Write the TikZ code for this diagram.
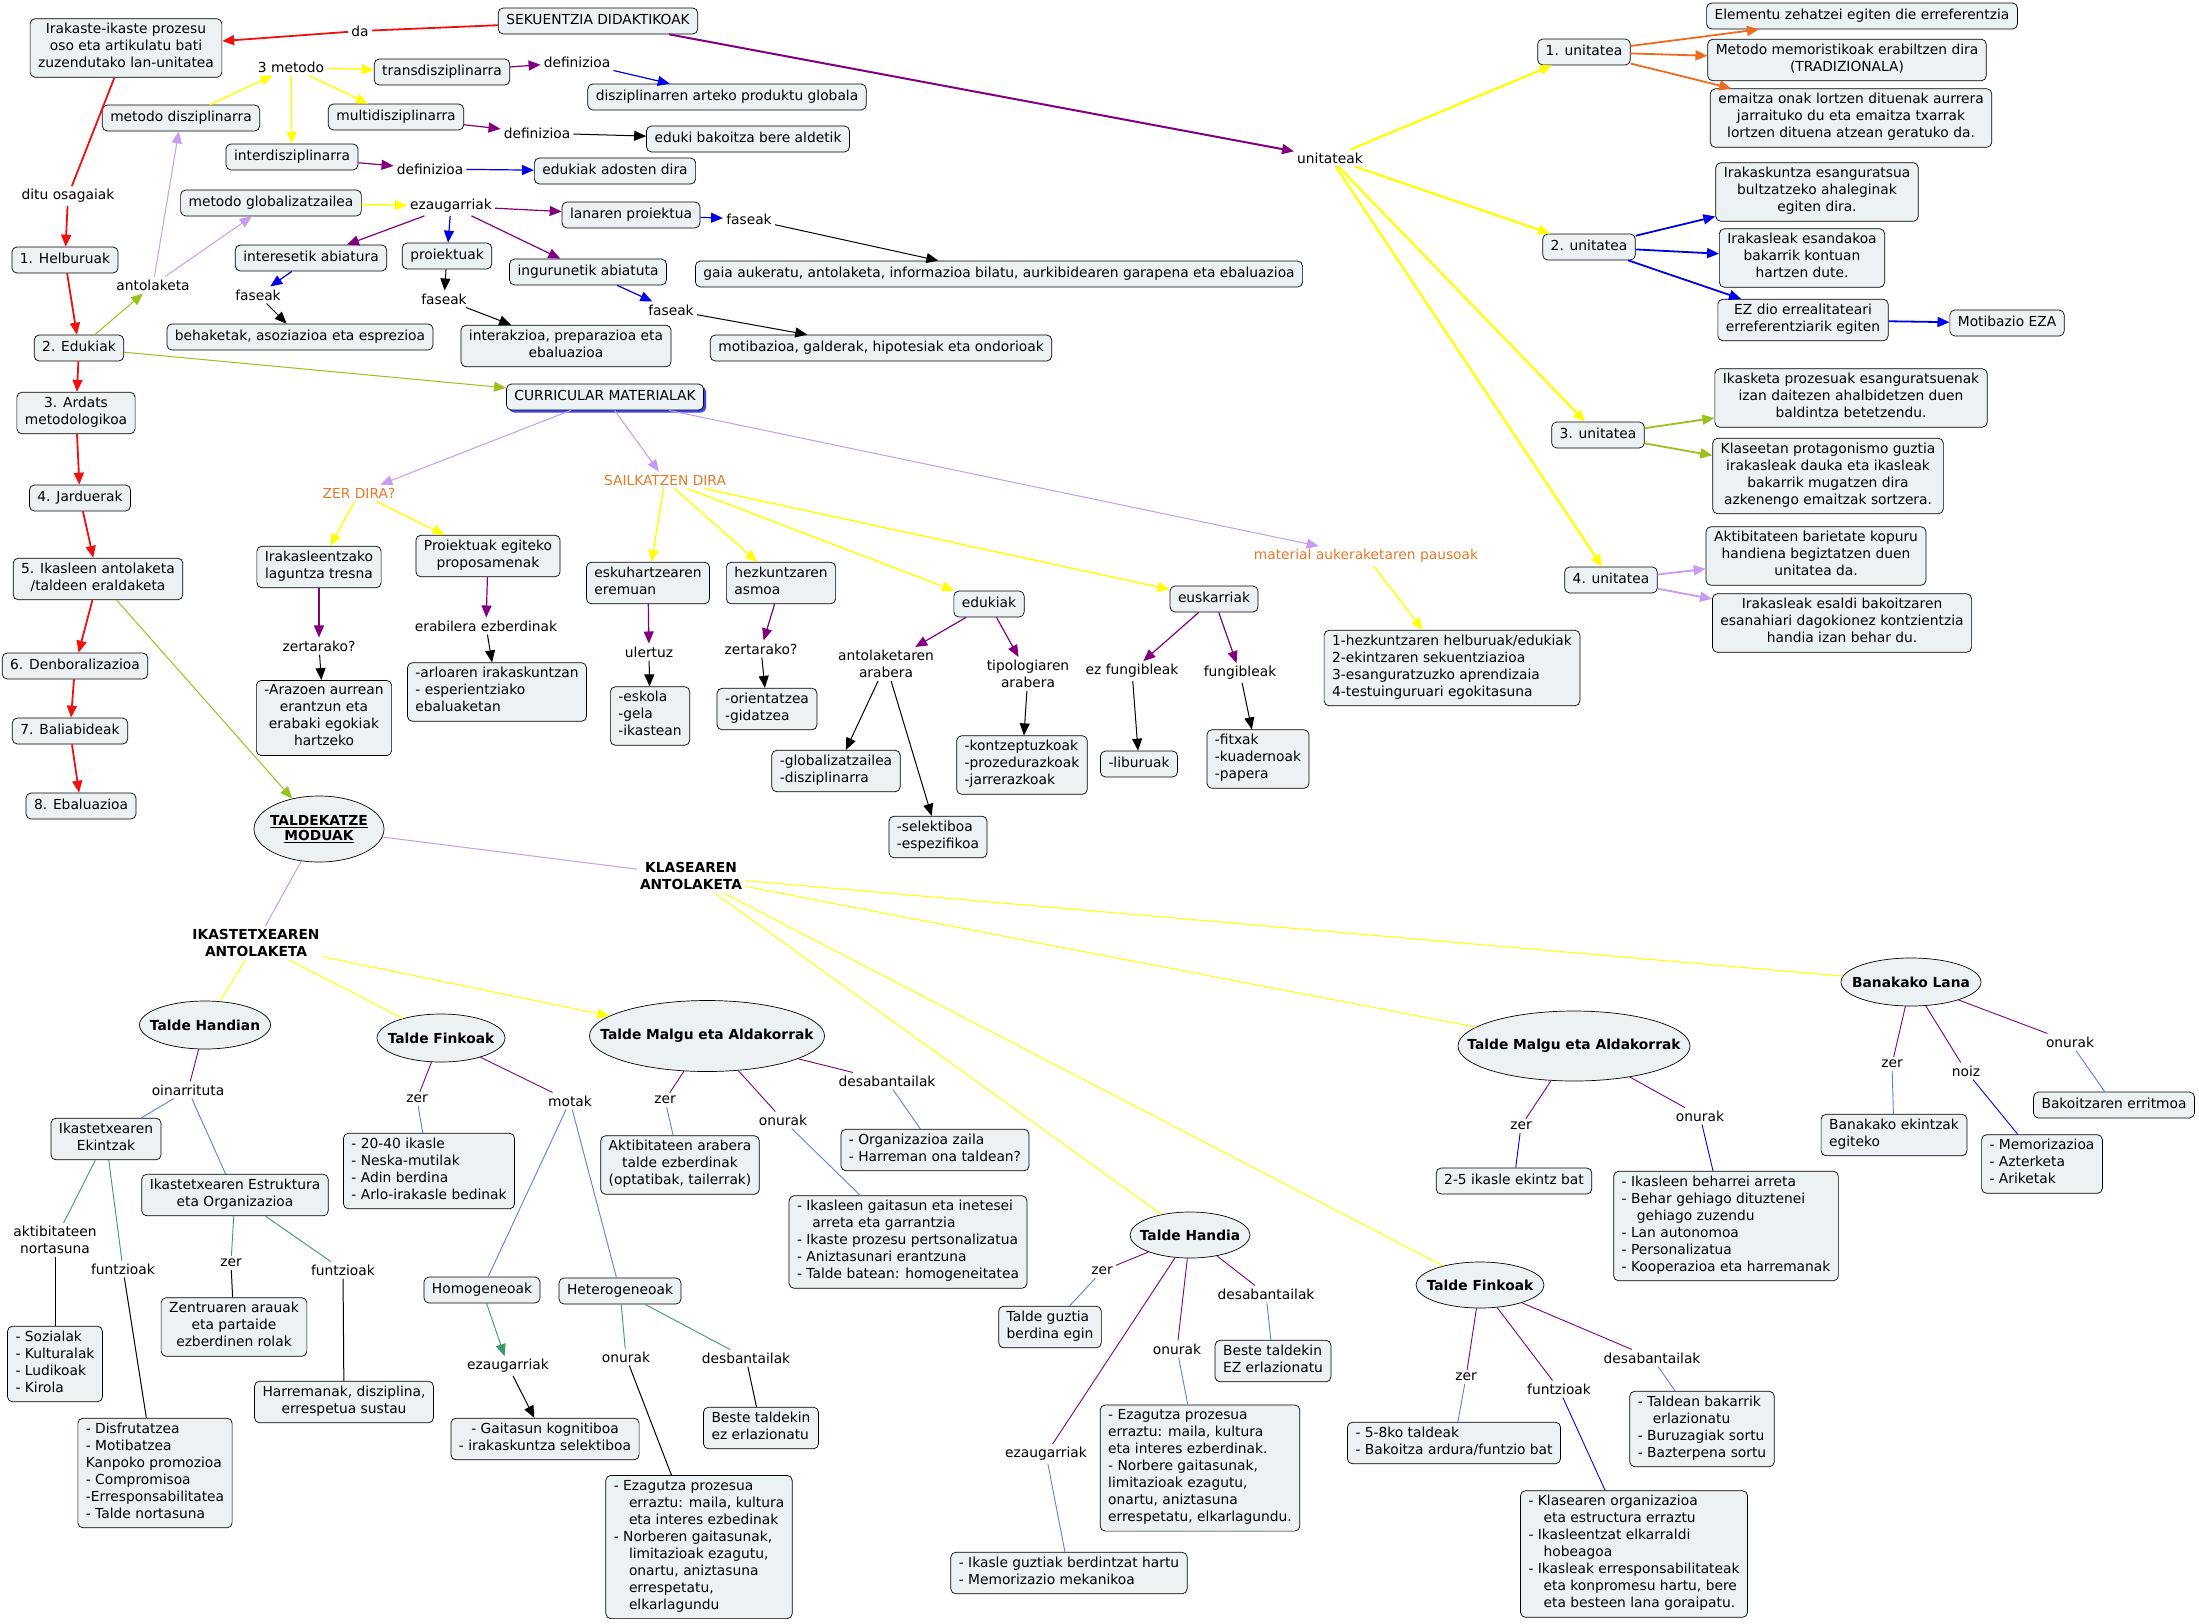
\documentclass[tikz,border=0pt]{standalone}
\usepackage{fontspec}
\setmainfont{DejaVu Sans}
\usetikzlibrary{arrows.meta,shapes.geometric,shadows}
\definecolor{boxfill}{HTML}{ECF2F4}
\definecolor{cmred}{HTML}{F01010}
\definecolor{cmyel}{HTML}{FFFF00}
\definecolor{cmpur}{HTML}{800080}
\definecolor{cmblu}{HTML}{0000E6}
\definecolor{cmora}{HTML}{F06A1E}
\definecolor{cmlav}{HTML}{C79BF2}
\definecolor{cmgrn}{HTML}{99C21A}
\definecolor{cmlbl}{HTML}{5A82DC}
\definecolor{cmtea}{HTML}{3A9A6A}
\definecolor{cmtxt}{HTML}{E8792B}
\newcommand{\cmfont}{\fontsize{13.8}{17}\selectfont}
\newcommand{\ovtext}[1]{\makebox[0pt]{#1}}
\newcommand{\ind}{\hspace*{1.1em}}

\begin{document}
\begin{tikzpicture}[x=1pt, y=-1pt, font=\cmfont, >={Triangle[length=12pt,width=10pt]},
	box/.style={draw, line width=0.7pt, rounded corners=5pt, fill=boxfill, inner xsep=8pt, inner ysep=4.5pt, align=center, execute at begin node=\strut, execute at end node=\strut},
	lbox/.style={box, align=left},
	oval/.style={draw, line width=0.7pt, ellipse, fill=boxfill, inner sep=0pt, font=\cmfont\bfseries},
	lnk/.style={inner sep=3pt, align=center},
	olnk/.style={lnk, text=cmtxt},
	hd/.style={lnk, font=\cmfont\bfseries},
	redE/.style={cmred, line width=1.8pt},
	yelE/.style={cmyel, line width=1.4pt},
	yelT/.style={cmyel, line width=2.2pt},
	yelS/.style={cmyel, line width=1pt},
	purE/.style={cmpur, line width=1.2pt},
	purT/.style={cmpur, line width=2pt},
	purS/.style={cmpur, line width=0.9pt},
	bluE/.style={cmblu, line width=1.2pt},
	bluT/.style={cmblu, line width=1.8pt},
	bluS/.style={cmblu, line width=0.9pt},
	blkE/.style={black, line width=1pt},
	oraE/.style={cmora, line width=1.8pt},
	lavE/.style={cmlav, line width=1pt},
	lavT/.style={cmlav, line width=1.8pt},
	grnE/.style={cmgrn, line width=1pt},
	grnT/.style={cmgrn, line width=1.8pt},
	lblE/.style={cmlbl, line width=0.9pt},
	teaE/.style={cmtea, line width=0.9pt}]
	\fill[white] (0,0) rectangle (2199,1623);
	\path[use as bounding box] (0,0) rectangle (2199,1623);

	\node[box] (seq) at (598,21) {SEKUENTZIA DIDAKTIKOAK};
	\node[box] (lan) at (126,48) {Irakaste-ikaste prozesu\\oso eta artikulatu bati\\zuzendutako lan-unitatea};
	\node[lnk] (da) at (360,31) {da};
	\node[lnk] (osag) at (68,196) {ditu osagaiak};
	\node[box] (helb) at (65,260) {1. Helburuak};
	\node[box] (eduk) at (79,348) {2. Edukiak};
	\node[box] (ardats) at (76,413) {3. Ardats\\metodologikoa};
	\node[box] (jard) at (80,498) {4. Jarduerak};
	\node[box] (ikasl) at (98,579) {5. Ikasleen antolaketa\\/taldeen eraldaketa};
	\node[box] (denb) at (75,666) {6. Denboralizazioa};
	\node[box] (balia) at (70,731) {7. Baliabideak};
	\node[box] (ebal) at (81,806) {8. Ebaluazioa};
	\node[lnk] (antol) at (153,285) {antolaketa};
	\node[box] (mdisz) at (181,118) {metodo disziplinarra};
	\node[lnk] (metodo) at (291,67) {3 metodo};
	\node[box] (trans) at (442,72) {transdisziplinarra};
	\node[box] (multi) at (396,117) {multidisziplinarra};
	\node[box] (inter) at (292,157) {interdisziplinarra};
	\node[lnk] (def1) at (577,62) {definizioa};
	\node[lnk] (def2) at (537,133) {definizioa};
	\node[lnk] (def3) at (430,169) {definizioa};
	\node[box] (prod) at (727,97) {disziplinarren arteko produktu globala};
	\node[box] (bakoitza) at (748,139) {eduki bakoitza bere aldetik};
	\node[box] (adosten) at (615,171) {edukiak adosten dira};
	\node[box] (mglob) at (271,203) {metodo globalizatzailea};
	\node[lnk] (ezaug) at (451,206) {ezaugarriak};
	\node[box] (lanpro) at (631,215) {lanaren proiektua};
	\node[lnk] (fase1) at (749,219) {faseak};
	\node[box] (gaia) at (999,274) {gaia aukeratu, antolaketa, informazioa bilatu, aurkibidearen garapena eta ebaluazioa};
	\node[box] (interes) at (311,258) {interesetik abiatura};
	\node[box] (proiek) at (447,256) {proiektuak};
	\node[box] (ingur) at (588,272) {ingurunetik abiatuta};
	\node[lnk] (fase2) at (258,295) {faseak};
	\node[lnk] (fase3) at (444,299) {faseak};
	\node[lnk] (fase4) at (671,310) {faseak};
	\node[box] (behak) at (300,337) {behaketak, asoziazioa eta esprezioa};
	\node[box] (interak) at (566,346) {interakzioa, preparazioa eta\\ebaluazioa};
	\node[box] (motib) at (881,348) {motibazioa, galderak, hipotesiak eta ondorioak};
	\node[box, drop shadow={shadow xshift=2.5pt, shadow yshift=-2.5pt, fill=cmblu!75, opacity=1}] (curr) at (605,397) {CURRICULAR MATERIALAK};

	\node[lnk] (unit) at (1330,158) {unitateak};
	\node[box] (u1) at (1584,52) {1. unitatea};
	\node[box] (u2) at (1589,247) {2. unitatea};
	\node[box] (u3) at (1598,435) {3. unitatea};
	\node[box] (u4) at (1611,580) {4. unitatea};
	\node[box] (elem) at (1862,16) {Elementu zehatzei egiten die erreferentzia};
	\node[box] (memor) at (1847,60) {Metodo memoristikoak erabiltzen dira\\(TRADIZIONALA)};
	\node[box] (emaitza) at (1851,118) {emaitza onak lortzen dituenak aurrera\\jarraituko du eta emaitza txarrak\\lortzen dituena atzean geratuko da.};
	\node[box] (irakask) at (1817,192) {Irakaskuntza esanguratsua\\bultzatzeko ahaleginak\\egiten dira.};
	\node[box] (esand) at (1802,258) {Irakasleak esandakoa\\bakarrik kontuan\\hartzen dute.};
	\node[box] (ezdio) at (1803,320) {EZ dio errealitateari\\erreferentziarik egiten};
	\node[box] (motez) at (2007,323) {Motibazio EZA};
	\node[box] (ikask) at (1851,398) {Ikasketa prozesuak esanguratsuenak\\izan daitezen ahalbidetzen duen\\baldintza betetzendu.};
	\node[box] (klaseet) at (1828,476) {Klaseetan protagonismo guztia\\irakasleak dauka eta ikasleak\\bakarrik mugatzen dira\\azkenengo emaitzak sortzera.};
	\node[box] (aktib) at (1816,556) {Aktibitateen barietate kopuru\\handiena begiztatzen duen\\unitatea da.};
	\node[box] (esaldi) at (1842,623) {Irakasleak esaldi bakoitzaren\\esanahiari dagokionez kontzientzia\\handia izan behar du.};

	\node[olnk] (zerdira) at (359,493) {ZER DIRA?};
	\node[olnk] (sailk) at (665,480) {SAILKATZEN DIRA};
	\node[olnk] (pausoak) at (1366,556) {material aukeraketaren pausoak};
	\node[box] (irtresna) at (319,567) {Irakasleentzako\\laguntza tresna};
	\node[box] (proposa) at (488,556) {Proiektuak egiteko\\proposamenak};
	\node[lnk] (zert1) at (319,646) {zertarako?};
	\node[lnk] (erabil) at (486,626) {erabilera ezberdinak};
	\node[box] (arazo) at (324,718) {-Arazoen aurrean\\erantzun eta\\erabaki egokiak\\hartzeko};
	\node[lbox] (arlo) at (497,692) {-arloaren irakaskuntzan\\- esperientziako\\ebaluaketan};
	\node[lbox] (eskuh) at (648,583) {eskuhartzearen\\eremuan};
	\node[lbox] (hezk) at (781,583) {hezkuntzaren\\asmoa};
	\node[box] (edk) at (989,604) {edukiak};
	\node[box] (euska) at (1214,599) {euskarriak};
	\node[lnk] (ulertuz) at (649,652) {ulertuz};
	\node[lnk] (zert2) at (761,649) {zertarako?};
	\node[lnk] (antarab) at (886,664) {antolaketaren\\arabera};
	\node[lnk] (tiparab) at (1028,674) {tipologiaren\\arabera};
	\node[lbox] (eskola) at (650,716) {-eskola\\-gela\\-ikastean};
	\node[lbox] (orient) at (767,709) {-orientatzea\\-gidatzea};
	\node[lbox] (global) at (836,771) {-globalizatzailea\\-disziplinarra};
	\node[lbox] (kontz) at (1022,765) {-kontzeptuzkoak\\-prozedurazkoak\\-jarrerazkoak};
	\node[lbox] (selekt) at (938,837) {-selektiboa\\-espezifikoa};
	\node[lnk] (ezfung) at (1132,671) {ez fungibleak};
	\node[lnk] (fung) at (1240,673) {fungibleak};
	\node[box] (libur) at (1139,764) {-liburuak};
	\node[lbox] (fitx) at (1258,759) {-fitxak\\-kuadernoak\\-papera};
	\node[lbox] (pauslist) at (1452,668) {1-hezkuntzaren helburuak/edukiak\\2-ekintzaren sekuentziazioa\\3-esanguratzuzko aprendizaia\\4-testuinguruari egokitasuna};

	\node[oval, minimum width=130, minimum height=66] (taldek) at (319,829) {\ovtext{\shortstack{\underline{TALDEKATZE}\\\underline{MODUAK}}}};
	\node[hd] (ikastA) at (256,943) {IKASTETXEAREN\\ANTOLAKETA};
	\node[hd] (klaseA) at (691,876) {KLASEAREN\\ANTOLAKETA};
	\node[oval, minimum width=131, minimum height=48] (thandian) at (205,1025) {\ovtext{Talde Handian}};
	\node[oval, minimum width=128, minimum height=48] (tfink1) at (441,1038) {\ovtext{Talde Finkoak}};
	\node[oval, minimum width=235, minimum height=71] (tmalgu1) at (707,1036) {\ovtext{Talde Malgu eta Aldakorrak}};
	\node[oval, minimum width=232, minimum height=70] (tmalgu2) at (1574,1046) {\ovtext{Talde Malgu eta Aldakorrak}};
	\node[oval, minimum width=120, minimum height=46] (thandia) at (1190,1235) {\ovtext{Talde Handia}};
	\node[oval, minimum width=128, minimum height=46] (tfink2) at (1480,1285) {\ovtext{Talde Finkoak}};
	\node[oval, minimum width=140, minimum height=48] (banak) at (1911,982) {\ovtext{Banakako Lana}};

	\node[lnk] (oinarr) at (188,1090) {oinarrituta};
	\node[box] (ekintz) at (106,1139) {Ikastetxearen\\Ekintzak};
	\node[box] (estrukt) at (235,1195) {Ikastetxearen Estruktura\\eta Organizazioa};
	\node[lnk] (aktnort) at (55,1240) {aktibitateen\\nortasuna};
	\node[lnk] (funtz1) at (123,1269) {funtzioak};
	\node[lnk] (zer1) at (231,1263) {zer};
	\node[lnk] (funtz2) at (343,1270) {funtzioak};
	\node[lbox] (sozial) at (55,1364) {- Sozialak\\- Kulturalak\\- Ludikoak\\- Kirola};
	\node[box] (zentru) at (234,1327) {Zentruaren arauak\\eta partaide\\ezberdinen rolak};
	\node[box] (harrem) at (344,1402) {Harremanak, disziplina,\\errespetua sustau};
	\node[lbox] (disfrut) at (155,1473) {- Disfrutatzea\\- Motibatzea\\Kanpoko promozioa\\- Compromisoa\\-Erresponsabilitatea\\- Talde nortasuna};

	\node[lnk] (zer2) at (417,1099) {zer};
	\node[lnk] (motak) at (570,1101) {motak};
	\node[lbox] (ikasle2040) at (429,1171) {- 20-40 ikasle\\- Neska-mutilak\\- Adin berdina\\- Arlo-irakasle bedinak};
	\node[box] (homog) at (482,1290) {Homogeneoak};
	\node[box] (heterog) at (620,1291) {Heterogeneoak};
	\node[lnk] (ezaug2) at (508,1366) {ezaugarriak};
	\node[lnk] (onurak1) at (626,1357) {onurak};
	\node[lnk] (desb1) at (746,1358) {desbantailak};
	\node[box] (gaitasun) at (545,1439) {- Gaitasun kognitiboa\\- irakaskuntza selektiboa};
	\node[lbox] (beste1) at (761,1428) {Beste taldekin\\ez erlazionatu};
	\node[lbox] (ezagutza1) at (699,1547) {- Ezagutza prozesua\\\ind erraztu: maila, kultura\\\ind eta interes ezbedinak\\- Norberen gaitasunak,\\\ind limitazioak ezagutu,\\\ind onartu, aniztasuna\\\ind errespetatu,\\\ind elkarlagundu};

	\node[lnk] (zer3) at (665,1100) {zer};
	\node[lnk] (onurak2) at (783,1120) {onurak};
	\node[lnk] (desab2) at (887,1081) {desabantailak};
	\node[box] (aktarab) at (680,1165) {Aktibitateen arabera\\talde ezberdinak\\(optatibak, tailerrak)};
	\node[lbox] (orgzaila) at (935,1150) {- Organizazioa zaila\\- Harreman ona taldean?};
	\node[lbox] (gaitinet) at (908,1242) {- Ikasleen gaitasun eta inetesei\\\ind arreta eta garrantzia\\- Ikaste prozesu pertsonalizatua\\- Aniztasunari erantzuna\\- Talde batean: homogeneitatea};

	\node[lnk] (zer4) at (1102,1271) {zer};
	\node[lnk] (onurak3) at (1177,1349) {onurak};
	\node[lnk] (desab3) at (1266,1294) {desabantailak};
	\node[lnk] (ezaug3) at (1046,1454) {ezaugarriak};
	\node[lbox] (taldeguz) at (1050,1327) {Talde guztia\\berdina egin};
	\node[lbox] (bestez) at (1273,1361) {Beste taldekin\\EZ erlazionatu};
	\node[lbox] (ezagutza2) at (1200,1468) {- Ezagutza prozesua\\erraztu: maila, kultura\\eta interes ezberdinak.\\- Norbere gaitasunak,\\limitazioak ezagutu,\\onartu, aniztasuna\\errespetatu, elkarlagundu.};
	\node[lbox] (ikasleguz) at (1069,1573) {- Ikasle guztiak berdintzat hartu\\- Memorizazio mekanikoa};

	\node[lnk] (zer5) at (1466,1377) {zer};
	\node[lnk] (funtz3) at (1559,1389) {funtzioak};
	\node[lnk] (desab4) at (1652,1358) {desabantailak};
	\node[lbox] (bosteta) at (1454,1443) {- 5-8ko taldeak\\- Bakoitza ardura/funtzio bat};
	\node[lbox] (taldeanb) at (1702,1429) {- Taldean bakarrik\\\ind erlazionatu\\- Buruzagiak sortu\\- Bazterpena sortu};
	\node[lbox] (klasorg) at (1634,1554) {- Klasearen organizazioa\\\ind eta estructura erraztu\\- Ikasleentzat elkarraldi\\\ind hobeagoa\\- Ikasleak erresponsabilitateak\\\ind eta konpromesu hartu, bere\\\ind eta besteen lana goraipatu.};

	\node[lnk] (zer6) at (1521,1126) {zer};
	\node[lnk] (onurak4) at (1700,1116) {onurak};
	\node[box] (bostekin) at (1514,1181) {2-5 ikasle ekintz bat};
	\node[lbox] (beharrei) at (1726,1226) {- Ikasleen beharrei arreta\\- Behar gehiago dituztenei\\\ind gehiago zuzendu\\- Lan autonomoa\\- Personalizatua\\- Kooperazioa eta harremanak};

	\node[lnk] (zer7) at (1892,1064) {zer};
	\node[lnk] (noiz) at (1966,1071) {noiz};
	\node[lnk] (onurak5) at (2070,1042) {onurak};
	\node[lbox] (banekin) at (1894,1135) {Banakako ekintzak\\egiteko};
	\node[lbox] (memoriz) at (2042,1164) {- Memorizazioa\\- Azterketa\\- Ariketak};
	\node[box] (erritmo) at (2114,1105) {Bakoitzaren erritmoa};

	\draw[redE] (seq) -- (da);
	\draw[redE,->] (da) -- (lan);
	\draw[redE] (lan) -- (osag);
	\draw[redE,->] (osag) -- (helb);
	\foreach \a/\b in {helb/eduk, eduk/ardats, ardats/jard, jard/ikasl, ikasl/denb, denb/balia, balia/ebal}
		\draw[redE,->] (\a) -- (\b);
	\draw[grnE,->] (eduk) -- (antol);
	\draw[lavE,->] (antol) -- (mdisz);
	\draw[lavE,->] (antol) -- (mglob);
	\draw[yelE,->] (mdisz) -- (metodo);
	\foreach \t in {trans,multi,inter}
		\draw[yelE,->] (metodo) -- (\t);
	\draw[purE,->] (trans) -- (def1);
	\draw[bluE,->] (def1) -- (prod);
	\draw[purE,->] (multi) -- (def2);
	\draw[blkE,->] (def2) -- (bakoitza);
	\draw[purE,->] (inter) -- (def3);
	\draw[bluE,->] (def3) -- (adosten);
	\draw[yelE,->] (mglob) -- (ezaug);
	\foreach \t in {lanpro,interes,ingur}
		\draw[purE,->] (ezaug) -- (\t);
	\draw[bluE,->] (ezaug) -- (proiek);
	\draw[bluE,->] (lanpro) -- (fase1);
	\draw[blkE,->] (fase1) -- (gaia);
	\draw[bluE,->] (interes) -- (fase2);
	\draw[blkE,->] (fase2) -- (behak);
	\draw[blkE,->] (proiek) -- (fase3);
	\draw[blkE,->] (fase3) -- (interak);
	\draw[bluE,->] (ingur) -- (fase4);
	\draw[blkE,->] (fase4) -- (motib);

	\draw[purT,->] (seq) -- (unit);
	\foreach \u in {u1,u2,u3,u4}
		\draw[yelT,->] (unit) -- (\u);
	\foreach \t in {elem,memor,emaitza}
		\draw[oraE,->] (u1) -- (\t);
	\foreach \t in {irakask,esand,ezdio}
		\draw[bluT,->] (u2) -- (\t);
	\draw[bluT,->] (ezdio) -- (motez);
	\foreach \t in {ikask,klaseet}
		\draw[grnT,->] (u3) -- (\t);
	\foreach \t in {aktib,esaldi}
		\draw[lavT,->] (u4) -- (\t);

	\draw[grnE,->] (eduk) -- (curr);
	\foreach \t in {zerdira,sailk,pausoak}
		\draw[lavE,->] (curr) -- (\t);
	\foreach \t in {irtresna,proposa}
		\draw[yelE,->] (zerdira) -- (\t);
	\foreach \t in {eskuh,hezk,edk,euska}
		\draw[yelE,->] (sailk) -- (\t);
	\draw[yelE,->] (pausoak) -- (pauslist);
	\foreach \a/\b in {irtresna/zert1, proposa/erabil, eskuh/ulertuz, hezk/zert2, edk/antarab, edk/tiparab, euska/ezfung, euska/fung}
		\draw[purE,->] (\a) -- (\b);
	\foreach \a/\b in {zert1/arazo, erabil/arlo, ulertuz/eskola, zert2/orient, antarab/global, antarab/selekt, tiparab/kontz, ezfung/libur, fung/fitx}
		\draw[blkE,->] (\a) -- (\b);

	\draw[grnE,->] (ikasl) -- (taldek);
	\draw[lavE] (taldek) -- (ikastA);
	\draw[lavE] (taldek) -- (klaseA);
	\draw[yelS] (ikastA) -- (thandian);
	\draw[yelS] (ikastA) -- (tfink1);
	\draw[yelS,->] (ikastA) -- (tmalgu1);
	\foreach \t in {thandia,tfink2,tmalgu2,banak}
		\draw[yelS] (klaseA) -- (\t);

	\foreach \a/\b in {thandian/oinarr, tfink1/zer2, tfink1/motak, tmalgu1/zer3, tmalgu1/onurak2, tmalgu1/desab2, thandia/zer4, thandia/onurak3, thandia/desab3, thandia/ezaug3, tfink2/zer5, tfink2/funtz3, tfink2/desab4, tmalgu2/zer6, tmalgu2/onurak4, banak/zer7, banak/noiz, banak/onurak5}
		\draw[purS] (\a) -- (\b);
	\foreach \a/\b in {oinarr/ekintz, oinarr/estrukt, zer2/ikasle2040, motak/homog, motak/heterog, zer3/aktarab, onurak2/gaitinet, desab2/orgzaila, zer4/taldeguz, onurak3/ezagutza2, desab3/bestez, ezaug3/ikasleguz, zer5/bosteta, desab4/taldeanb, zer7/banekin, onurak5/erritmo}
		\draw[lblE] (\a) -- (\b);
	\foreach \a/\b in {funtz3/klasorg, zer6/bostekin, onurak4/beharrei, noiz/memoriz}
		\draw[bluS] (\a) -- (\b);
	\foreach \a/\b in {ekintz/aktnort, ekintz/funtz1, estrukt/zer1, estrukt/funtz2, heterog/onurak1, heterog/desb1}
		\draw[teaE] (\a) -- (\b);
	\draw[teaE,->] (homog) -- (ezaug2);
	\foreach \a/\b in {aktnort/sozial, funtz1/disfrut, zer1/zentru, funtz2/harrem, onurak1/ezagutza1, desb1/beste1}
		\draw[blkE] (\a) -- (\b);
	\draw[blkE,->] (ezaug2) -- (gaitasun);
\end{tikzpicture}
\end{document}
